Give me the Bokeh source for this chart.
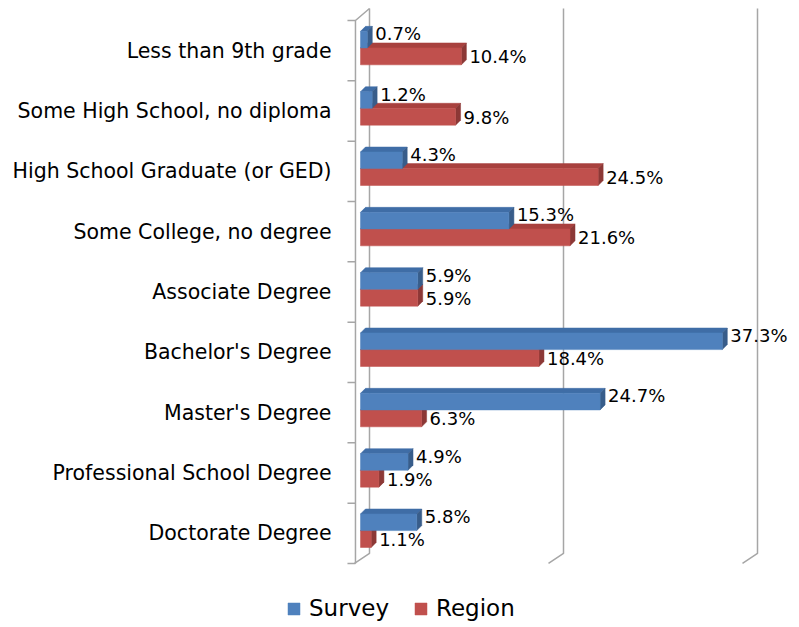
from bokeh.plotting import figure
from bokeh.models import Range1d, FixedTicker, Legend, LegendItem
from bokeh.embed import file_html
from bokeh.resources import INLINE
from bokeh.core.properties import value

# ---- data ----
categories = [
    "Less than 9th grade",
    "Some High School, no diploma",
    "High School Graduate (or GED)",
    "Some College, no degree",
    "Associate Degree",
    "Bachelor's Degree",
    "Master's Degree",
    "Professional School Degree",
    "Doctorate Degree",
]
survey = [0.7, 1.2, 4.3, 15.3, 5.9, 37.3, 24.7, 4.9, 5.8]
region = [10.4, 9.8, 24.5, 21.6, 5.9, 18.4, 6.3, 1.9, 1.1]
series_names = ["Survey", "Region"]
grid_values = [0, 20, 40]

# ---- style / geometry ----
FONT = "DejaVu Sans"
PX_X = 9.7      # pixels per percent
PX_Y = 60.33    # pixels per category
W, H = 790, 624
LEFT = 280      # frame left (px); axis labels are pulled right with negative standoff
ZERO_PX = 360   # pixel position of the value 0
LABEL_RIGHT = 331
n = len(categories)

x_start = (LEFT - ZERO_PX) / PX_X
x_end = x_start + (W - LEFT) / PX_X
y_top = (n - 0.5) + 20 / PX_Y
y_bot = y_top - H / PX_Y

DX = 5 / PX_X   # 3D depth of bars (x)
DY = 5 / PX_Y   # 3D depth of bars (y)
BX = 9 / PX_X   # back wall offset
BY = 10 / PX_Y
FX = -6 / PX_X  # front floor offset

blue = dict(front="#4F81BD", top="#3F6DA6", side="#385D8A")
red = dict(front="#C0504D", top="#A8413E", side="#8C3836")

p = figure(width=W, height=H, x_range=Range1d(x_start, x_end),
           y_range=Range1d(y_bot, y_top), output_backend="svg",
           toolbar_location=None, x_axis_type=None,
           min_border_left=LEFT, min_border_right=0,
           min_border_top=0, min_border_bottom=0)
p.grid.visible = False
p.outline_line_color = None
p.background_fill_color = "white"

centers = [n - 1 - i for i in range(n)]

# ---- walls / gridlines ----
grid_col = "#A6A6A6"
wall_top = (n - 0.5) + 12 / PX_Y
for t in grid_values:
    p.line([t + BX, t + BX, t + FX], [wall_top, -0.5 + BY, -0.5],
           line_color=grid_col, line_width=1.5)
# left wall front line and top slant
p.line([FX + 0.1, FX + 0.1, BX], [-0.5, n - 0.5, wall_top],
       line_color=grid_col, line_width=1.5)
# category boundary ticks
bounds = [k - 0.5 for k in range(n + 1)]
p.segment(x0=[FX + 0.1 - 8 / PX_X] * len(bounds), x1=[FX + 0.1] * len(bounds),
          y0=bounds, y1=bounds, line_color=grid_col, line_width=1.5)


def bars(vals, off0, off1, col):
    l, r, b, t = [], [], [], []
    txs, tys, sxs, sys_ = [], [], [], []
    for v, c in zip(vals, centers):
        y0, y1 = c + off0, c + off1
        l.append(0); r.append(v); b.append(y0); t.append(y1)
        txs.append([0, v, v + DX, DX]); tys.append([y1, y1, y1 + DY, y1 + DY])
        sxs.append([v, v, v + DX, v + DX]); sys_.append([y0, y1, y1 + DY, y0 + DY])
    p.patches(txs, tys, fill_color=col["top"], line_color=col["top"], line_width=0.5)
    p.patches(sxs, sys_, fill_color=col["side"], line_color=col["side"], line_width=0.5)
    return p.quad(left=l, right=r, bottom=b, top=t, fill_color=col["front"],
                  line_color=col["front"], line_width=0.5)


r_region = bars(region, -0.235, 0.045, red)
r_survey = bars(survey, 0.045, 0.32, blue)

# ---- data labels ----
lab_dx = DX + 3 / PX_X
p.text(x=[v + lab_dx for v in survey], y=[c + 0.28 for c in centers],
       text=[f"{v:.1f}%" for v in survey], text_font=value(FONT),
       text_font_size="18px", text_baseline="middle", text_align="left",
       text_color="#000000")
p.text(x=[v + lab_dx for v in region], y=[c - 0.10 for c in centers],
       text=[f"{v:.1f}%" for v in region], text_font=value(FONT),
       text_font_size="18px", text_baseline="middle", text_align="left",
       text_color="#000000")

# ---- y axis ----
p.yaxis.ticker = FixedTicker(ticks=centers)
p.yaxis.major_label_overrides = {c: name for c, name in zip(centers, categories)}
p.yaxis.axis_line_color = None
p.yaxis.major_tick_line_color = None
p.yaxis.minor_tick_line_color = None
p.yaxis.major_tick_out = 0
p.yaxis.major_tick_in = 0
p.yaxis.major_label_standoff = LEFT - LABEL_RIGHT
p.yaxis.major_label_text_font = FONT
p.yaxis.major_label_text_font_size = "20.5px"
p.yaxis.major_label_text_color = "#000000"

# ---- legend ----
legend = Legend(items=[LegendItem(label=series_names[0], renderers=[r_survey]),
                       LegendItem(label=series_names[1], renderers=[r_region])],
                orientation="horizontal", location=(286 - LEFT, 3),
                glyph_width=15, glyph_height=15, label_standoff=8, spacing=24,
                padding=0, margin=0, border_line_color=None,
                background_fill_alpha=0, label_text_font=FONT,
                label_text_font_size="23px", label_text_color="#000000")
p.add_layout(legend, "center")

open("out.html", "w").write(file_html(p, INLINE))
